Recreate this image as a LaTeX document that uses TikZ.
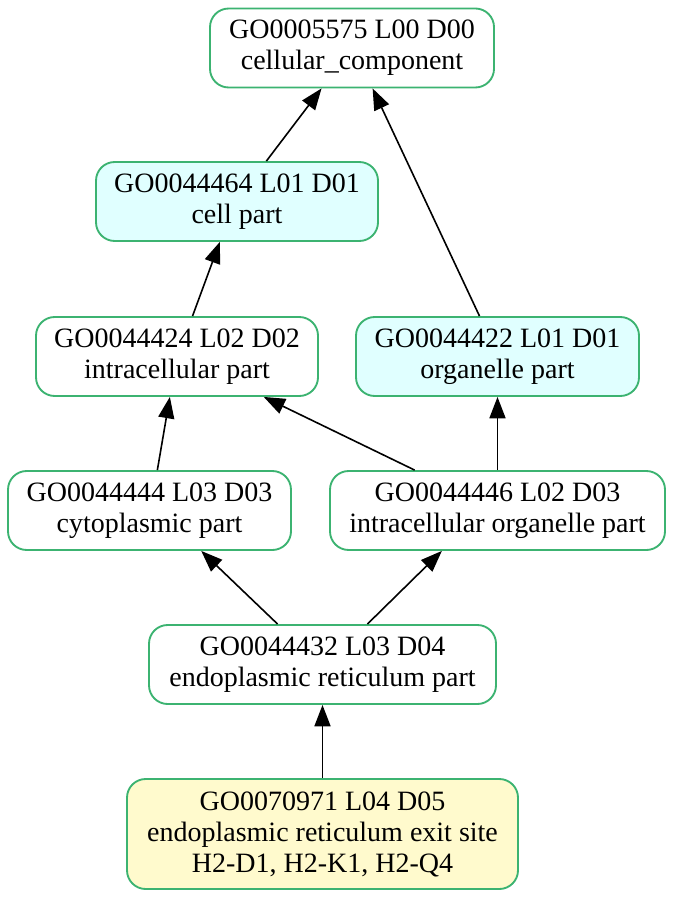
\documentclass[tikz,border=0pt]{standalone}
\usepackage{fontspec}
\setmainfont{Liberation Serif}
\usepackage{xcolor}
\usepackage{tikz}
\usetikzlibrary{arrows.meta,positioning}

\definecolor{seagreen}{HTML}{3CB371}
\definecolor{lightcyan}{HTML}{E0FFFF}
\definecolor{lemonchiffon}{HTML}{FFFACD}

\begin{document}
\begin{tikzpicture}[
    x=0.75pt, y=-0.75pt,
    term/.style={draw=seagreen, line width=1.4pt, rectangle, rounded corners=14pt,
                 fill=white, inner sep=0pt, minimum height=59.25pt, align=center,
                 font=\fontsize{21}{23.25}\selectfont},
    hit/.style={term, fill=lightcyan},
    leaf/.style={term, fill=lemonchiffon, minimum height=82.5pt},
    arrow/.style={-{Triangle[length=16pt,width=12pt]}, line width=1.2pt}
]
\useasboundingbox (0,0) rectangle (674,898);

\node[term, minimum width=213pt] (cc) at (352,48) {GO0005575 L00 D00\\cellular\_component};
\node[hit, minimum width=211.5pt] (cellpart) at (237,201.5) {GO0044464 L01 D01\\cell part};
\node[term, minimum width=211.5pt] (intrapart) at (177,356.5) {GO0044424 L02 D02\\intracellular part};
\node[hit, minimum width=212.25pt] (orgpart) at (497.5,356.5) {GO0044422 L01 D01\\organelle part};
\node[term, minimum width=212.25pt] (cytopart) at (149.5,510.5) {GO0044444 L03 D03\\cytoplasmic part};
\node[term, minimum width=251.25pt] (intraorg) at (497.5,510.5) {GO0044446 L02 D03\\intracellular organelle part};
\node[term, minimum width=260.25pt] (erpart) at (322.5,664.5) {GO0044432 L03 D04\\endoplasmic reticulum part};
\node[leaf, minimum width=293.25pt] (erexit) at (322.5,834) {GO0070971 L04 D05\\endoplasmic reticulum exit site\\H2-D1, H2-K1, H2-Q4};

\draw[arrow] (cellpart.54) -- (cc.233);
\draw[arrow] (orgpart.114) -- (cc.297);
\draw[arrow] (intrapart.69) -- (cellpart.247);
\draw[arrow] (cytopart.79) -- (intrapart.260);
\draw[arrow] (intraorg.154) -- (intrapart.335);
\draw[arrow] (intraorg) -- (orgpart);
\draw[arrow] (erpart.138) -- (cytopart.322);
\draw[arrow] (erpart.42) -- (intraorg.216);
\draw[arrow] (erexit) -- (erpart);
\end{tikzpicture}
\end{document}
